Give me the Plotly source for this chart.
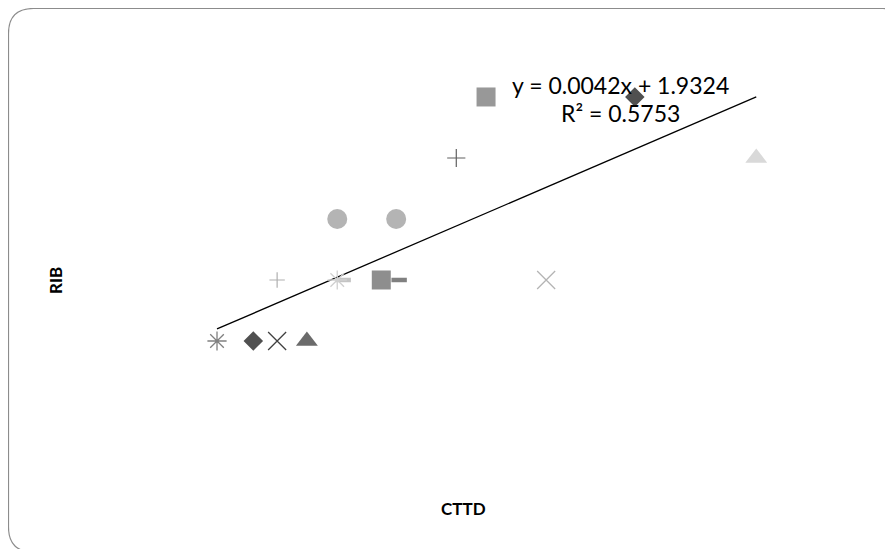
import plotly.graph_objects as go

# ---- data ----
cttd = [63, 124, 164, 214, 164, 265, 339, 616, 265, 364, 465, 515, 765, 969]
rib = [2, 2, 2, 2, 3, 3, 3, 3, 4, 4, 5, 6, 6, 5]
dash_cttd = [275, 369]
dash_rib = [3, 3]
trend_slope = 0.0042
trend_intercept = 1.9324
r_squared = 0.5753
x_title = "CTTD"
y_title = "RIB"

# ---- styles ----
symbols = ["asterisk-open", "diamond", "x-thin-open", "triangle-up",
           "cross-thin-open", "asterisk-open", "square", "x-thin-open",
           "circle", "circle", "cross-thin-open", "square", "diamond", "triangle-up"]
colors = ["#808080", "#505050", "#404040", "#6b6b6b",
          "#b0b0b0", "#d0d0d0", "#8e8e8e", "#b4b4b4",
          "#b4b4b4", "#b4b4b4", "#606060", "#989898", "#505050", "#d9d9d9"]
sizes = [16, 15, 18, 19, 11, 16, 19, 18, 20, 20, 13, 19, 15, 19]
lwidths = [1.3, 0, 1.3, 0, 1.2, 1.3, 0, 1.3, 0, 0, 1.2, 0, 0, 0]
dash_colors = ["#c4c4c4", "#808080"]

OFF = 8  # page body margin
W, H = 885, 541
L, T = 92, 32
PW, PH = 760, 400
R, B = W - L - PW, H - T - PH
XR = [-133.6, 1143.3]
YR = [0.377, 6.934]

def px(p):
    return (p - OFF - L) / PW

def py(p):
    return (T + PH - (p - OFF)) / PH

fig = go.Figure()

fig.add_trace(go.Scatter(
    x=dash_cttd, y=dash_rib, mode="markers", showlegend=False, hoverinfo="skip",
    marker=dict(symbol="line-ew-open", size=11, color=dash_colors, opacity=1,
                line=dict(width=4.5, color=dash_colors))))

# linear trendline (from the chart's own equation)
tx = [min(cttd), max(cttd)]
ty = [trend_slope * v + trend_intercept for v in tx]
fig.add_trace(go.Scatter(x=tx, y=ty, mode="lines", showlegend=False,
                         line=dict(color="black", width=1.3), hoverinfo="skip"))

fig.add_trace(go.Scatter(
    x=cttd, y=rib, mode="markers", showlegend=False,
    marker=dict(symbol=symbols, color=colors, size=sizes, opacity=1,
                line=dict(width=lwidths, color=colors))))

# rounded chart border
l, t, r, b, rad = 8.5, 8.5, 908, 552, 25
path = (f"M {px(l)},{py(t+rad)} Q {px(l)},{py(t)} {px(l+rad)},{py(t)} "
        f"L {px(r-rad)},{py(t)} Q {px(r)},{py(t)} {px(r)},{py(t+rad)} "
        f"L {px(r)},{py(b-rad)} Q {px(r)},{py(b)} {px(r-rad)},{py(b)} "
        f"L {px(l+rad)},{py(b)} Q {px(l)},{py(b)} {px(l)},{py(b-rad)} Z")
fig.add_shape(type="path", path=path, xref="paper", yref="paper",
              line=dict(color="#8c8c8c", width=1.2), layer="below")

eqfont = dict(family="Lato, Open Sans, sans-serif", size=23, color="black")
fig.add_annotation(text=f"y = {trend_slope}x + {trend_intercept}", x=px(620), y=py(85),
                   xref="paper", yref="paper", showarrow=False, font=eqfont,
                   xanchor="center", yanchor="middle")
fig.add_annotation(text=f"R² = {r_squared}", x=px(620), y=py(113),
                   xref="paper", yref="paper", showarrow=False, font=eqfont,
                   xanchor="center", yanchor="middle")

tfont = dict(family="Lato, Open Sans, sans-serif", size=17, color="black")
fig.add_annotation(text=f"<b>{x_title}</b>", x=px(463), y=py(508), xref="paper", yref="paper",
                   showarrow=False, font=tfont, xanchor="center", yanchor="middle")
fig.add_annotation(text=f"<b>{y_title}</b>", x=px(55), y=py(281), xref="paper", yref="paper",
                   showarrow=False, font=tfont, xanchor="center", yanchor="middle", textangle=-90)

fig.update_xaxes(range=XR, visible=False, showgrid=False, zeroline=False)
fig.update_yaxes(range=YR, visible=False, showgrid=False, zeroline=False)
fig.update_layout(width=W, height=H, margin=dict(l=L, r=R, t=T, b=B, pad=0),
                  paper_bgcolor="white", plot_bgcolor="white")

fig.write_html("out.html")
